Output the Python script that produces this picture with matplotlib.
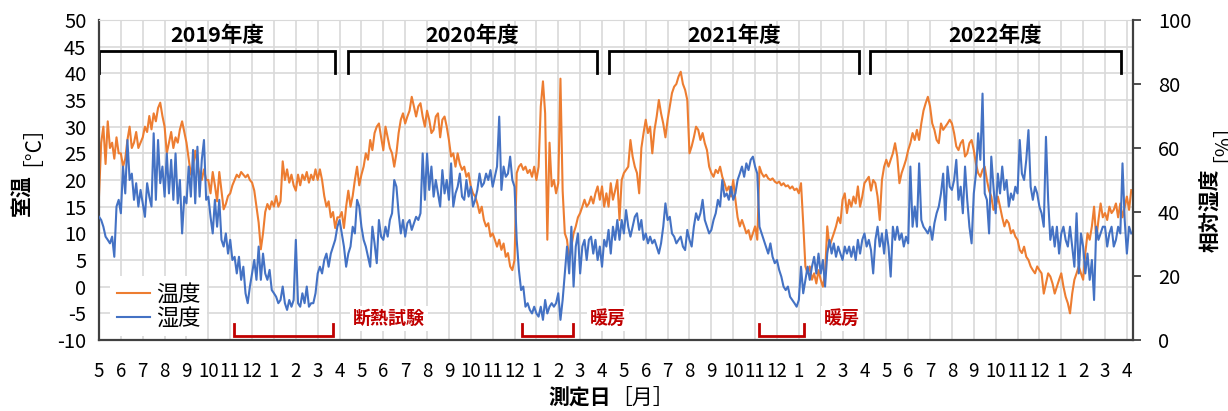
import numpy as np
import matplotlib
matplotlib.use("Agg")
import matplotlib.pyplot as plt

plt.rcParams['font.family'] = ['Noto Sans CJK JP', 'DejaVu Sans']
plt.rcParams['axes.unicode_minus'] = False

# x軸: 2019年5月〜2023年4月, 0.1ヶ月ごとの値
month_labels = [5, 6, 7, 8, 9, 10, 11, 12, 1, 2, 3, 4] * 4
step = 0.1

# 室温 [°C] (1行 = 1ヶ月)
temp = [
    17, 27, 30, 23, 31, 26, 27, 24, 28, 25,
    25, 22.5, 24, 27.5, 30, 26, 27, 29, 26, 27,
    28, 30, 29, 32, 29.5, 32.5, 31, 33.5, 34.5, 32,
    30, 25, 27, 29, 26, 28, 27, 29.5, 31, 29,
    27, 24, 21, 22.5, 25.5, 23, 21, 20, 22, 20,
    20, 17.5, 21.5, 19, 16, 21.5, 18, 14.5, 15.5, 17,
    17.5, 19, 20, 21, 20.5, 21.5, 21, 20.5, 21, 20,
    19.5, 18, 15, 12, 7, 10, 14, 15.5, 14.5, 16,
    15, 17, 15, 16, 23.5, 20, 22, 19.5, 21, 19,
    18, 21, 19, 21, 20, 21.5, 19.5, 21, 20, 22,
    20, 22, 20, 17, 15, 16, 13, 14, 11, 13,
    13, 14, 11, 15, 18, 15, 17, 20, 22.5, 19,
    21, 22.5, 25, 23.8, 27.5, 25.6, 28.8, 30, 30.6, 28,
    25.6, 30, 28, 26, 25, 22.5, 25, 28.8, 31.3, 32.5,
    30.6, 31.9, 33, 35.6, 33.8, 31.9, 33.8, 34.4, 31.9, 30,
    33, 31.3, 28.8, 29.4, 31.9, 32.5, 28, 31.3, 31.9, 30,
    27.5, 24.4, 25, 22.5, 25, 23, 21.9, 22.5, 20.6, 21.3,
    18.8, 17.5, 16.9, 15.6, 13.8, 15, 12.5, 11.3, 11.9, 9.4,
    10, 8.8, 7.5, 8.8, 6.9, 8.1, 5.6, 6.3, 3.8, 3.1,
    5, 21.3, 22.5, 23, 21.9, 22.5, 21.3, 21.9, 20.6, 22.5,
    20, 22.5, 33.8, 38.5, 32.5, 8.8, 27, 18.8, 20, 17.5,
    19.4, 39, 18, 10, 8.8, 5, 7.5, 10, 11.3, 13,
    13.8, 15, 16.3, 15, 15.6, 16.9, 15.6, 17.5, 18.8, 16.3,
    18.8, 15, 17.5, 15, 19.4, 16.3, 18, 20, 12.5, 20,
    21.3, 21.9, 22.5, 27.5, 24.4, 22.5, 21.3, 17.5, 26, 28.8,
    31.3, 28.8, 30, 25, 29.4, 31.9, 35, 32.5, 30.6, 28,
    31.3, 33.8, 36.3, 37.5, 38, 39.4, 40.3, 38, 36.9, 35,
    25, 26.3, 28, 30, 29.4, 27.5, 28.8, 26.9, 25.6, 22.5,
    21.3, 20.6, 21.9, 21.3, 22.5, 20.6, 19.4, 18, 18.8, 16.9,
    20, 16.3, 13, 11.3, 12.5, 11.3, 10, 10.6, 8.8, 10,
    11.3, 8.8, 22.5, 21.3, 20.6, 21, 20.3, 20, 20.3, 19.7,
    19.4, 19.7, 19, 19.4, 18.8, 19, 18.4, 18.8, 18.1, 18.4,
    17.5, 19.4, 11.9, 3.8, 2.5, 3.8, 1.3, 2.5, 0.6, 3.1,
    1.3, 0, 2.5, 11.3, 7.5, 8.8, 10, 11.3, 13, 11.9,
    16.3, 17.5, 13.8, 16.3, 15, 16.9, 15.6, 18.8, 15, 16.9,
    19.4, 20, 20.6, 18, 20, 19.4, 16.9, 12.5, 20, 22.5,
    23.8, 22.5, 23.8, 25, 26.9, 24.4, 19.4, 21.3, 22.5, 23.8,
    25.6, 26.9, 28.8, 27.5, 29.4, 27.5, 30.6, 33, 34.4, 35.6,
    33.8, 30.6, 29.4, 27.5, 26.9, 30.6, 29.4, 30, 30.6, 31.3,
    30.6, 28.8, 26.3, 25.6, 26.9, 27.5, 24.4, 25, 26.9, 27.5,
    25.6, 23, 21.3, 20.6, 21.9, 22.5, 20, 18, 16.9, 14.4,
    15, 16.9, 15, 13, 11.3, 12.5, 11.9, 10, 10.6, 9.4,
    8.8, 6.9, 6.3, 7.5, 5.6, 5, 3.8, 3.1, 2.5, 3.8,
    3.1, 2.5, -1.3, 0.6, 2.5, 1.9, 0.6, -1.3, 0, 1.3,
    2.5, 0, -1.9, -3.1, -5, -1.3, 1.3, 2.5, 3.8, 2.5,
    1.3, 6.3, 10, 8.8, 11.3, 15, 8.8, 12.5, 15.6, 13,
    13.8, 12.5, 15, 13.8, 14.4, 15.6, 13, 15.6, 13, 15,
    16.9, 14.4, 18.1,
]

# 相対湿度 [%]
humid = [
    38.5, 37.5, 35.4, 32.3, 31.3, 30.2, 32.3, 26, 41.7, 43.8,
    39.6, 54.2, 45.8, 62.5, 50, 52, 43.8, 49, 41.7, 46.9,
    42.7, 38.5, 49, 44.8, 41.7, 64.6, 43.8, 62.5, 49, 54.2,
    44.8, 58.3, 45.8, 56.3, 43.8, 58.3, 42.7, 50, 33.3, 44.8,
    42.7, 54.2, 44.8, 59.4, 42.7, 60.4, 44.8, 56.3, 62.5, 43.8,
    44.8, 38.5, 33.3, 43.8, 35.4, 43.8, 31.3, 29.2, 33.3, 27,
    31.3, 25, 26, 20.8, 26, 18.8, 22.9, 14.6, 11.5, 16.7,
    20.8, 25, 18.8, 29.2, 18.8, 27, 20.8, 18.8, 21.9, 15.6,
    14.6, 13.5, 11.5, 12.5, 16.7, 11.5, 9.4, 12.5, 10.4, 12.5,
    31.3, 11.5, 10.4, 14.6, 11.5, 16.7, 10.4, 11.5, 11.5, 14.6,
    20.8, 22.9, 20.8, 25, 27, 22.9, 27, 29.2, 31.3, 35.4,
    37.5, 33.3, 29.2, 22.9, 27, 29.2, 35.4, 33.3, 43.8, 41.7,
    35.4, 31.3, 29.2, 26, 22.9, 35.4, 30.2, 24, 37.5, 32.3,
    31.3, 35.4, 32.3, 37.5, 39.6, 50, 47.9, 39.6, 33.3, 37.5,
    32.3, 36.5, 37.5, 34.4, 36.5, 38.5, 37.5, 39.6, 58.3, 43.8,
    58.3, 46.9, 54.2, 44.8, 50, 45.8, 41.7, 53.1, 45.8, 50,
    43.8, 55.2, 41.7, 45.8, 47.9, 52, 44.8, 43.8, 50, 44.8,
    47.9, 41.7, 43.8, 46.9, 52, 47.9, 49, 52, 50, 53.1,
    47.9, 51, 54.2, 69.8, 46.9, 54.2, 51, 52, 57.3, 50,
    47.9, 31.3, 21.9, 15.6, 16.7, 10.4, 11.5, 9.4, 8.3, 10.4,
    8.3, 7.3, 10.4, 6.3, 12.5, 8.3, 10.4, 11.5, 10.4, 11.5,
    14.6, 6.3, 12.5, 20.8, 29.2, 20.8, 35.4, 16.7, 29.2, 33.3,
    20.8, 29.2, 31.3, 25, 31.3, 32.3, 27, 31.3, 25, 29.2,
    22.9, 31.3, 29.2, 34.4, 27, 35.4, 31.3, 37.5, 31.3, 37.5,
    33.3, 40.6, 35.4, 32.3, 35.4, 38.5, 39.6, 34.4, 37.5, 31.3,
    33.3, 30.2, 32.3, 30.2, 31.3, 29.2, 27, 30.2, 35.4, 42.7,
    37.5, 38.5, 33.3, 32.3, 30.2, 31.3, 32.3, 29.2, 28.1, 34.4,
    31.3, 29.2, 35.4, 39.6, 37.5, 39.6, 43.8, 37.5, 35.4, 33.3,
    34.4, 37.5, 39.6, 43.8, 41.7, 50, 44.8, 45.8, 43.8, 47.9,
    43.8, 45.8, 50, 52, 54.2, 51, 55.2, 53.1, 56.3, 57.3,
    54.2, 52, 35.4, 33.3, 31.3, 29.2, 27, 30.2, 26, 24,
    25, 21.9, 19.8, 16.7, 15.6, 16.7, 13.5, 12.5, 11.5, 10.4,
    12.5, 22.9, 14.6, 18.8, 22.9, 18.8, 22.9, 26, 20.8, 27,
    20.8, 25, 16.7, 27, 31.3, 27, 30.2, 26, 29.2, 27,
    25, 29.2, 27, 29.2, 26, 29.2, 25, 31.3, 27, 31.3,
    33.3, 29.2, 31.3, 28.1, 20.8, 31.3, 35.4, 29.2, 33.3, 27,
    34.4, 29.2, 19.8, 35.4, 31.3, 35.4, 31.3, 33.3, 29.2, 32.3,
    30.2, 54.2, 35.4, 41.7, 35.4, 55.2, 37.5, 35.4, 34.4, 33.3,
    35.4, 31.3, 36.5, 39.6, 41.7, 45.8, 52, 37.5, 54.2, 47.9,
    46.9, 50, 56.3, 43.8, 47.9, 39.6, 54.2, 43.8, 35.4, 30.2,
    45.8, 52, 64.6, 56.3, 77, 45.8, 43.8, 33.3, 57.3, 47.9,
    39.6, 52, 45.8, 54.2, 46.9, 50, 41.7, 45.8, 43.8, 47.9,
    45.8, 62.5, 52, 50, 56.3, 65.6, 47.9, 43.8, 47.9, 45.8,
    41.7, 39.6, 35.4, 63.5, 43.8, 31.3, 35.4, 29.2, 35.4, 27,
    33.3, 35.4, 31.3, 29.2, 35.4, 29.2, 22.9, 39.6, 20.8, 33.3,
    29.2, 20.8, 27, 18.8, 25, 12.5, 35.4, 31.3, 33.3, 35.4,
    35.4, 29.2, 33.3, 35.4, 29.2, 31.3, 35.4, 33.3, 55.2, 37.5,
    27, 35.4, 33.3,
]

# 年度の範囲 (月単位) と注記
years = ['2019年度', '2020年度', '2021年度', '2022年度']
year_spans = [(0.0, 10.79), (11.39, 22.77), (23.32, 34.74), (35.25, 46.73)]
notes = ['断熱試験', '暖房', '暖房']
note_spans = [(6.17, 10.7), (19.34, 21.67), (30.18, 32.24)]
note_x = [13.26, 23.27, 33.97]

W, H = 1228, 411
fig = plt.figure(figsize=(W / 100, H / 100), dpi=100)
ax = fig.add_axes([99 / W, 1 - 340 / H, (1133 - 99) / W, 320 / H])
ax2 = ax.twinx()

x_t = np.arange(len(temp)) * step
x_h = np.arange(len(humid)) * step
l1, = ax.plot(x_t, temp, color='#ED7D31', lw=1.5)
l2, = ax2.plot(x_h, humid, color='#4472C4', lw=1.5)

ax.set_xlim(0, 47.28)
ax.set_ylim(-10, 50)
ax2.set_ylim(0, 100)
ax.set_yticks(range(-10, 51, 5))
ax2.set_yticks(range(0, 101, 20))
ax.set_xticks(range(len(month_labels)))
ax.set_xticklabels(month_labels)

ax.grid(color='#d9d9d9', lw=1.2)
ax.set_axisbelow(True)
ax.tick_params(axis='both', length=0)
ax.tick_params(axis='x', pad=15, labelsize=13.5)
ax.tick_params(axis='y', pad=9, labelsize=14.5)
ax2.tick_params(axis='y', direction='out', length=6, width=1.3,
                labelsize=14.5, pad=12, color='#404040')

for s in ['left', 'bottom']:
    ax.spines[s].set_color('#404040')
    ax.spines[s].set_linewidth(1.6)
ax.spines['right'].set_visible(False)
ax.spines['top'].set_color('#d9d9d9')
for s in ['left', 'bottom', 'top']:
    ax2.spines[s].set_visible(False)
ax2.spines['right'].set_color('#404040')
ax2.spines['right'].set_linewidth(1.6)

# 年度の括弧
for label, (a, b) in zip(years, year_spans):
    ax.plot([a, a, b, b], [40, 44.25, 44.25, 40], color='black', lw=2,
            solid_joinstyle='miter', clip_on=False)
    ax.text((a + b) / 2, 47.1, label, ha='center', va='center',
            fontsize=15.5, fontweight='bold')

# 注記 (断熱試験・暖房)
red = '#C00000'
for label, (a, b), tx in zip(notes, note_spans, note_x):
    ax.plot([a, a, b, b], [-7, -9.2, -9.2, -7], color=red, lw=2,
            solid_joinstyle='miter')
    ax.text(tx, -6.0, label, ha='center', va='center', color=red,
            fontsize=13, fontweight='bold',
            bbox=dict(fc='white', ec='none', pad=2))

leg = ax.legend([l1, l2], ['温度', '湿度'], loc='upper left',
                bbox_to_anchor=(0.0, 0.235), fontsize=16, handlelength=1.5,
                handletextpad=0.25, labelspacing=0.05, borderpad=0.3,
                frameon=True, fancybox=False, framealpha=1, edgecolor='none')
leg.set_zorder(10)

# 軸ラベル
fig.text(21 / W, 1 - 195 / H, '室温', rotation=90, ha='center', va='center',
         fontsize=15, fontweight='bold')
fig.text(21 / W, 1 - 135 / H, '［°C］', rotation=90, ha='center', va='center',
         fontsize=15)
fig.text(1211 / W, 1 - 210 / H, '相対湿度', rotation=90, ha='center',
         va='center', fontsize=15, fontweight='bold')
fig.text(1211 / W, 1 - 132 / H, '［%］', rotation=90, ha='center', va='center',
         fontsize=15)
fig.text(580 / W, 1 - 398 / H, '測定日', ha='center', va='center',
         fontsize=15, fontweight='bold')
fig.text(642 / W, 1 - 398 / H, '［月］', ha='center', va='center', fontsize=15)

fig.savefig('out.png', dpi=100)
